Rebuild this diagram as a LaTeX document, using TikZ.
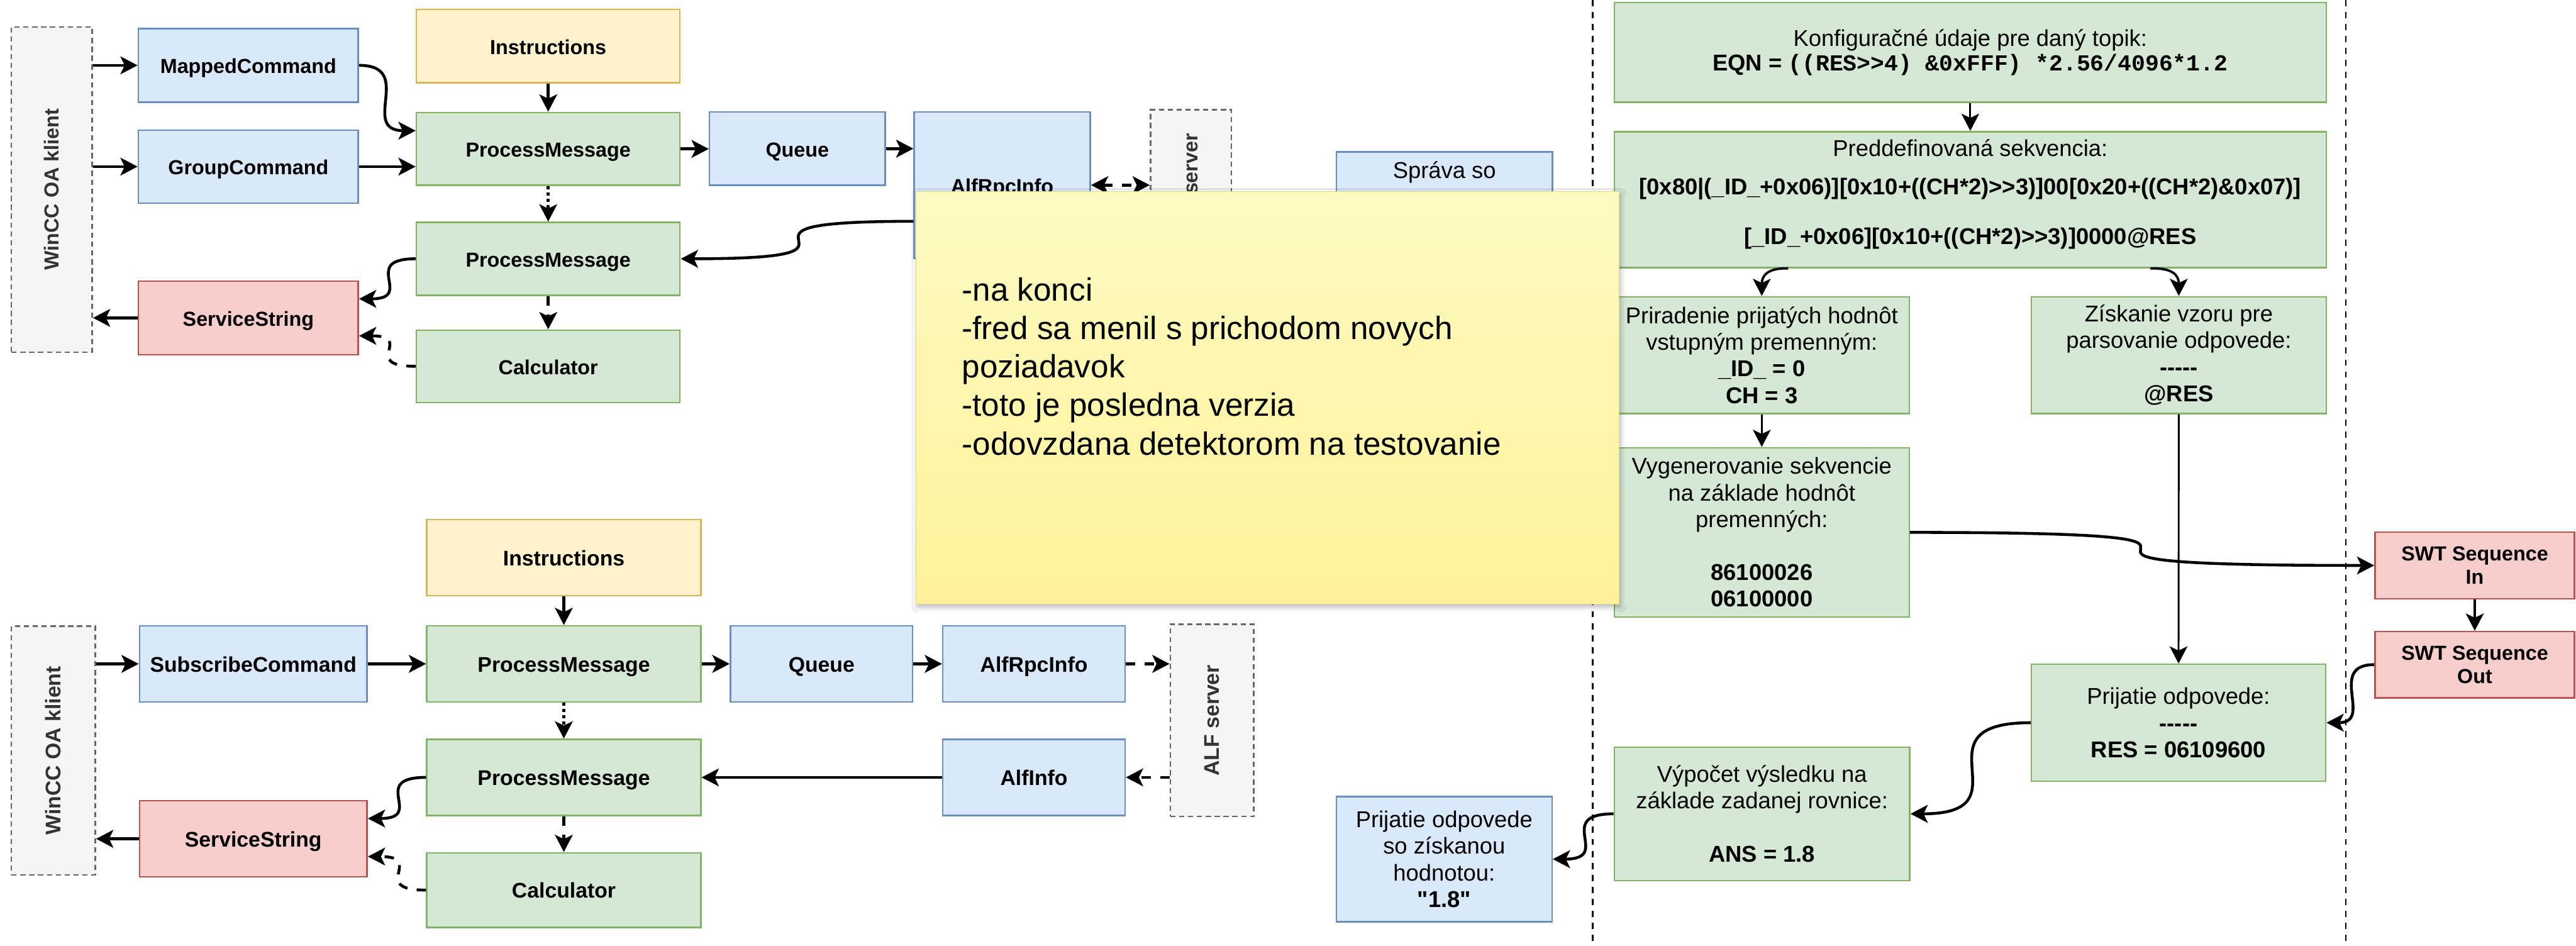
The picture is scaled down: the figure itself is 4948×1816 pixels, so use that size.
\documentclass[tikz,border=0pt]{standalone}
\usepackage{fontspec}
\newfontfamily\hv{Liberation Sans}
\newfontfamily\hvmono{Liberation Mono}
\usetikzlibrary{arrows.meta,shadows.blur}

\definecolor{bfill}{HTML}{DAE8FC}
\definecolor{bdraw}{HTML}{6C8EBF}
\definecolor{gfill}{HTML}{D5E8D4}
\definecolor{gdraw}{HTML}{82B366}
\definecolor{yfill}{HTML}{FFF2CC}
\definecolor{ydraw}{HTML}{D6B656}
\definecolor{rfill}{HTML}{F8CECC}
\definecolor{rdraw}{HTML}{B85450}
\definecolor{sfill}{HTML}{F5F5F5}
\definecolor{sdraw}{HTML}{666666}
\definecolor{stext}{HTML}{333333}
\definecolor{notetop}{HTML}{FEFAC2}
\definecolor{notebot}{HTML}{FFF29A}
\definecolor{noteline}{HTML}{E3D88C}

\newcommand\lblfont{\hv\bfseries\fontsize{11.1pt}{12.8pt}\selectfont}
\newcommand\lblfontb{\hv\bfseries\fontsize{11.6pt}{13.3pt}\selectfont}
\newcommand\txtfont{\hv\fontsize{12.5pt}{14.5pt}\selectfont}
\newcommand\notefont{\hv\fontsize{17.6pt}{21.05pt}\selectfont}
% S-shaped connector: leaves #2 horizontally, enters #3 horizontally
\newcommand\sconn[3]{\draw[#1] (#2) .. controls (#3 |- #2) and (#2 |- #3) .. (#3);}

\begin{document}
\begin{tikzpicture}[x=0.01cm,y=-0.01cm,
  >={Stealth[length=0.33cm,width=0.34cm,inset=0.08cm]},
  cbox/.style={draw,line width=0.03cm,inner sep=0pt,align=center,font=\lblfont},
  onel/.style={text height=0.375cm,text depth=0.065cm},
  bluebox/.style={cbox,fill=bfill,draw=bdraw},
  greenbox/.style={cbox,fill=gfill,draw=gdraw},
  yellowbox/.style={cbox,fill=yfill,draw=ydraw},
  redbox/.style={cbox,fill=rfill,draw=rdraw},
  graybox/.style={cbox,fill=sfill,draw=sdraw,dash pattern=on 0.1cm off 0.07cm},
  graylbl/.style={rotate=90,inner sep=0pt,text=stext},
  infobox/.style={greenbox,font=\txtfont},
  conn/.style={line width=0.055cm,->},
  thinconn/.style={line width=0.035cm,->},
  dashconn/.style={conn,dash pattern=on 0.18cm off 0.18cm},
  dotconn/.style={conn,dash pattern=on 0.06cm off 0.06cm},
  divider/.style={line width=0.03cm,dash pattern=on 0.12cm off 0.11cm},
  notebox/.style={top color=notetop,bottom color=notebot,draw=noteline,line width=0.01cm,
    blur shadow={shadow xshift=0.03cm,shadow yshift=-0.05cm,shadow blur radius=0.1cm,shadow opacity=30}},
]
\fill[white] (0,0) rectangle (4948,1816);
\useasboundingbox (0,0) rectangle (4948,1816);

% section dividers
\draw[divider] (3059,0) -- (3059,1816);
\draw[divider] (4506,0) -- (4506,1816);

% ---------- upper flow ----------
\node[graybox,minimum width=1.55cm,minimum height=6.24cm] (win1) at (99.5,364) {};
\node[graylbl,font=\lblfont] (win1t) at (win1.center) {WinCC OA klient};
\node[bluebox,onel,minimum width=4.22cm,minimum height=1.41cm] (mapped) at (477,125.5) {MappedCommand};
\node[bluebox,onel,minimum width=4.22cm,minimum height=1.40cm] (group) at (477,320) {GroupCommand};
\node[yellowbox,onel,minimum width=5.06cm,minimum height=1.41cm] (instr1) at (1053,88.5) {Instructions};
\node[greenbox,onel,minimum width=5.06cm,minimum height=1.40cm] (pm1) at (1053,286) {ProcessMessage};
\node[greenbox,onel,minimum width=5.06cm,minimum height=1.40cm] (pm2) at (1053,497) {ProcessMessage};
\node[redbox,onel,minimum width=4.22cm,minimum height=1.41cm] (ss1) at (477,610.5) {ServiceString};
\node[greenbox,onel,minimum width=5.06cm,minimum height=1.39cm] (calc1) at (1053,703.5) {Calculator};
\node[bluebox,onel,minimum width=3.37cm,minimum height=1.41cm] (queue1) at (1531.5,285.5) {Queue};
\node[bluebox,onel,minimum width=3.38cm,minimum height=2.81cm] (rpc1) at (1925,355.5) {AlfRpcInfo};
\node[graybox,minimum width=1.55cm,minimum height=2.94cm] (srv1) at (2287.5,358) {};
\node[graylbl,font=\lblfont] (srv1t) at (srv1.center) {ALF server};
\node[bluebox,minimum width=4.15cm,minimum height=4.20cm] (sprava) at (2774.5,502) {};
\node[font=\txtfont,anchor=base,inner sep=0pt] (spravat) at (2774.5,343) {Správa so};

\coordinate (pm1inA) at ([yshift=0.35cm]pm1.west);
\coordinate (ss1inA) at ([yshift=0.365cm]ss1.east);
\coordinate (ss1inB) at ([yshift=-0.345cm]ss1.east);
\coordinate (rpc1out) at ([yshift=-0.695cm]rpc1.west);

\draw[conn] (win1.east |- mapped.west) -- (mapped.west);
\draw[conn] (win1.east |- group.west) -- (group.west);
\draw[conn] (ss1.west) -- (win1.east |- ss1.west);
\sconn{conn}{mapped.east}{pm1inA}
\draw[conn] (group.east) -- (pm1.west |- group.east);
\draw[conn] (instr1.south) -- (pm1.north);
\draw[dotconn] (pm1.south) -- (pm2.north);
\draw[dashconn] (pm2.south) -- (calc1.north);
\sconn{conn}{pm2.west}{ss1inA}
\sconn{dashconn}{calc1.west}{ss1inB}
\draw[conn] (pm1.east) -- (queue1.west |- pm1.east);
\draw[conn] (queue1.east) -- (rpc1.west |- queue1.east);
\draw[dashconn,<->] (rpc1.east) -- (srv1.west |- rpc1.east);
\sconn{conn}{rpc1out}{pm2.east}

% ---------- lower flow ----------
\node[graybox,minimum width=1.61cm,minimum height=4.77cm] (win2) at (102.5,1441.5) {};
\node[graylbl,font=\lblfontb] (win2t) at (win2.center) {WinCC OA klient};
\node[bluebox,onel,font=\lblfontb,minimum width=4.37cm,minimum height=1.46cm] (sub) at (486.5,1275) {SubscribeCommand};
\node[yellowbox,onel,font=\lblfontb,minimum width=5.26cm,minimum height=1.46cm] (instr2) at (1083,1071) {Instructions};
\node[greenbox,onel,font=\lblfontb,minimum width=5.26cm,minimum height=1.46cm] (pm3) at (1083,1275) {ProcessMessage};
\node[greenbox,onel,font=\lblfontb,minimum width=5.26cm,minimum height=1.46cm] (pm4) at (1083,1493) {ProcessMessage};
\node[redbox,onel,font=\lblfontb,minimum width=4.37cm,minimum height=1.46cm] (ss2) at (486.5,1611) {ServiceString};
\node[greenbox,onel,font=\lblfontb,minimum width=5.26cm,minimum height=1.43cm] (calc2) at (1083,1709.5) {Calculator};
\node[bluebox,onel,font=\lblfontb,minimum width=3.50cm,minimum height=1.46cm] (queue2) at (1578,1275) {Queue};
\node[bluebox,onel,font=\lblfontb,minimum width=3.50cm,minimum height=1.46cm] (rpc2) at (1986,1275) {AlfRpcInfo};
\node[graybox,minimum width=1.60cm,minimum height=3.69cm] (srv2) at (2328,1383.5) {};
\node[graylbl,font=\lblfontb] (srv2t) at (srv2.center) {ALF server};
\node[bluebox,onel,font=\lblfontb,minimum width=3.50cm,minimum height=1.46cm] (alfinfo) at (1986,1493) {AlfInfo};

\coordinate (ss2inA) at ([yshift=0.39cm]ss2.east);
\coordinate (ss2inB) at ([yshift=-0.34cm]ss2.east);

\draw[conn] (win2.east |- sub.west) -- (sub.west);
\draw[conn] (sub.east) -- (pm3.west);
\draw[conn] (instr2.south) -- (pm3.north);
\draw[conn] (pm3.east) -- (queue2.west);
\draw[conn] (queue2.east) -- (rpc2.west);
\draw[dashconn] (rpc2.east) -- (srv2.west |- rpc2.east);
\draw[dotconn] (pm3.south) -- (pm4.north);
\draw[dashconn] (pm4.south) -- (calc2.north);
\draw[dashconn] (srv2.west |- alfinfo.east) -- (alfinfo.east);
\draw[conn] (alfinfo.west) -- (pm4.east);
\sconn{conn}{pm4.west}{ss2inA}
\sconn{dashconn}{calc2.west}{ss2inB}
\draw[conn] (ss2.west) -- (win2.east |- ss2.west);

% ---------- sequence processing ----------
\node[infobox,minimum width=13.67cm,minimum height=1.91cm] (kon) at (3784.5,100.5)
  {Konfiguračné údaje pre daný topik:\\[-0.04cm]{\bfseries EQN = }{\hvmono\bfseries ((RES>>4) \&0xFFF) *2.56/4096*1.2}};
\node[infobox,minimum width=13.67cm,minimum height=2.61cm] (pre) at (3784.5,383.5)
  {Preddefinovaná sekvencia:\\[0.23cm]{\bfseries [0x80|(\_ID\_+0x06)][0x10+((CH*2)>>3)]00[0x20+((CH*2)\&0x07)]}\\[0.45cm]{\bfseries [\_ID\_+0x06][0x10+((CH*2)>>3)]0000@RES\rule[-0.3cm]{0pt}{0pt}}};
\node[infobox,minimum width=5.66cm,minimum height=2.24cm] (pri) at (3384,682)
  {Priradenie prijatých hodnôt\\vstupným premenným:\\{\bfseries \_ID\_ = 0}\\{\bfseries CH = 3}};
\node[infobox,minimum width=5.66cm,minimum height=2.24cm] (zis) at (4185,682)
  {Získanie vzoru pre\\parsovanie odpovede:\\{\bfseries -----}\\{\bfseries @RES}};
\node[infobox,minimum width=5.66cm,minimum height=3.25cm] (vyg) at (3384,1022.5)
  {Vygenerovanie sekvencie\\na základe hodnôt\\premenných:\\[0.51cm]{\bfseries 86100026}\\{\bfseries 06100000}};
\node[redbox,minimum width=3.83cm,minimum height=1.28cm] (swtin) at (4753.5,1086) {SWT Sequence\\In};
\node[redbox,minimum width=3.83cm,minimum height=1.27cm] (swtout) at (4753.5,1276.5) {SWT Sequence\\Out};
\node[infobox,minimum width=5.65cm,minimum height=2.24cm] (prij) at (4184.5,1388)
  {Prijatie odpovede:\\{\bfseries -----}\\{\bfseries RES = 06109600}};
\node[infobox,minimum width=5.67cm,minimum height=2.56cm] (vyp) at (3384.5,1563)
  {Výpočet výsledku na\\základe zadanej rovnice:\\[0.51cm]{\bfseries ANS = 1.8}};
\node[bluebox,font=\txtfont,minimum width=4.14cm,minimum height=2.40cm] (fin) at (2774,1650)
  {Prijatie odpovede\\so získanou\\hodnotou:\\{\bfseries "1.8"}};

\coordinate (preL) at ([xshift=-3.495cm]pre.south);
\coordinate (preR) at ([xshift=3.455cm]pre.south);

\draw[thinconn] (kon.south) -- (pre.north);
\draw[conn,line width=0.045cm] (preL) .. controls (3395,514) and (3384,530) .. (pri.north);
\draw[conn,line width=0.045cm] (preR) .. controls (4175,514) and (4185,530) .. (zis.north);
\draw[thinconn] (pri.south) -- (vyg.north);
\draw[thinconn] (zis.south) -- (prij.north);
\sconn{conn}{vyg.east}{swtin.west}
\draw[conn] (swtin.south) -- (swtout.north);
\sconn{conn}{swtout.west}{prij.east}
\sconn{conn}{prij.west}{vyp.east}
\sconn{conn}{vyp.west}{fin.east}

% ---------- sticky note ----------
\node[notebox,minimum width=13.49cm,minimum height=7.92cm] (note) at (2434.5,764) {};
\node[font=\notefont,align=left,anchor=north west,inner sep=0pt] (notet) at (1847,532)
  {-na konci\\-fred sa menil s prichodom novych\\poziadavok\\-toto je posledna verzia\\-odovzdana detektorom na testovanie};
\end{tikzpicture}
\end{document}
